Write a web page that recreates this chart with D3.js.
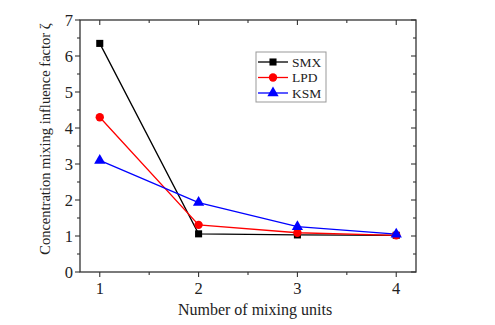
<!DOCTYPE html>
<html><head><meta charset="utf-8">
<script src="https://cdn.jsdelivr.net/npm/d3@7"></script>
<style>body{margin:0;background:#fff}svg{display:block}</style>
</head><body><svg id="c" width="495" height="325"></svg>
<script>
const units = [1, 2, 3, 4];
const smx = [6.35, 1.06, 1.03, 1.02];
const lpd = [4.30, 1.31, 1.09, 1.02];
const ksm = [3.10, 1.93, 1.26, 1.05];
const seriesNames = ["SMX", "LPD", "KSM"];
const xTicks = [1, 2, 3, 4];
const yTicks = [0, 1, 2, 3, 4, 5, 6, 7];

const svg = d3.select("#c");
const L = 80, R = 416, T = 20, B = 272;
const x = d3.scaleLinear().domain([0.8, 4.2]).range([L, R]);
const y = d3.scaleLinear().domain([0, 7]).range([B, T]);
const font = "'Liberation Serif', 'Times New Roman', serif";

// frame
svg.append("rect").attr("x", L).attr("y", T).attr("width", R - L).attr("height", B - T)
  .attr("fill", "none").attr("stroke", "#333").attr("stroke-width", 1.3);

const tk = svg.append("g").attr("stroke", "#333").attr("stroke-width", 1.1);
d3.range(0, 7.01, 0.5).forEach(v => {
  const major = Math.abs(v - Math.round(v)) < 1e-6;
  const len = major ? 5 : 3;
  tk.append("line").attr("x1", L - len).attr("x2", L).attr("y1", y(v)).attr("y2", y(v));
  tk.append("line").attr("x1", R - len).attr("x2", R).attr("y1", y(v)).attr("y2", y(v));
});
d3.range(1, 4.01, 0.5).forEach(v => {
  const major = Math.abs(v - Math.round(v)) < 1e-6;
  const len = major ? 5 : 3;
  tk.append("line").attr("x1", x(v)).attr("x2", x(v)).attr("y1", B).attr("y2", B + len);
  tk.append("line").attr("x1", x(v)).attr("x2", x(v)).attr("y1", T).attr("y2", T + len);
});

svg.append("g").selectAll("text").data(yTicks).join("text")
  .attr("x", L - 7).attr("y", d => y(d)).attr("dy", "0.35em")
  .attr("text-anchor", "end").attr("font-family", font).attr("font-size", 16.5)
  .attr("fill", "#222").text(d => d);
svg.append("g").selectAll("text").data(xTicks).join("text")
  .attr("x", d => x(d)).attr("y", B + 22)
  .attr("text-anchor", "middle").attr("font-family", font).attr("font-size", 16.5)
  .attr("fill", "#222").text(d => d);

svg.append("text").attr("x", 255).attr("y", 315).attr("text-anchor", "middle")
  .attr("font-family", font).attr("font-size", 16).attr("fill", "#222")
  .text("Number of mixing units");
svg.append("text").attr("transform", `translate(50,139) rotate(-90)`)
  .attr("text-anchor", "middle").attr("font-family", font).attr("font-size", 14.5).attr("fill", "#222")
  .text("Concentration mixing influence factor ζ");

const series = [
  {name: seriesNames[0], vals: smx, color: "#000000", sym: d3.symbolSquare, size: 50},
  {name: seriesNames[1], vals: lpd, color: "#ff0000", sym: d3.symbolCircle, size: 55},
  {name: seriesNames[2], vals: ksm, color: "#0000ff", sym: d3.symbolTriangle, size: 55}
];
const line = d3.line().x((d, i) => x(units[i])).y(d => y(d));
series.forEach(s => {
  svg.append("path").attr("d", line(s.vals)).attr("fill", "none")
    .attr("stroke", s.color).attr("stroke-width", 1.3);
});
series.forEach(s => {
  svg.append("g").selectAll("path").data(s.vals).join("path")
    .attr("transform", (d, i) => `translate(${x(units[i])},${y(d)})`)
    .attr("d", d3.symbol(s.sym, s.size)).attr("fill", s.color);
});

// legend
const lg = svg.append("g");
lg.append("rect").attr("x", 256).attr("y", 52).attr("width", 70).attr("height", 50)
  .attr("fill", "#fff").attr("stroke", "#999").attr("stroke-width", 1);
series.forEach((s, i) => {
  const yy = 62 + i * 15.5;
  lg.append("line").attr("x1", 258).attr("x2", 288).attr("y1", yy).attr("y2", yy)
    .attr("stroke", s.color).attr("stroke-width", 1.3);
  lg.append("path").attr("transform", `translate(273,${yy})`)
    .attr("d", d3.symbol(s.sym, s.size)).attr("fill", s.color);
  lg.append("text").attr("x", 292).attr("y", yy).attr("dy", "0.35em")
    .attr("font-family", font).attr("font-size", 13.5).attr("fill", "#222").text(s.name);
});
</script></body></html>
